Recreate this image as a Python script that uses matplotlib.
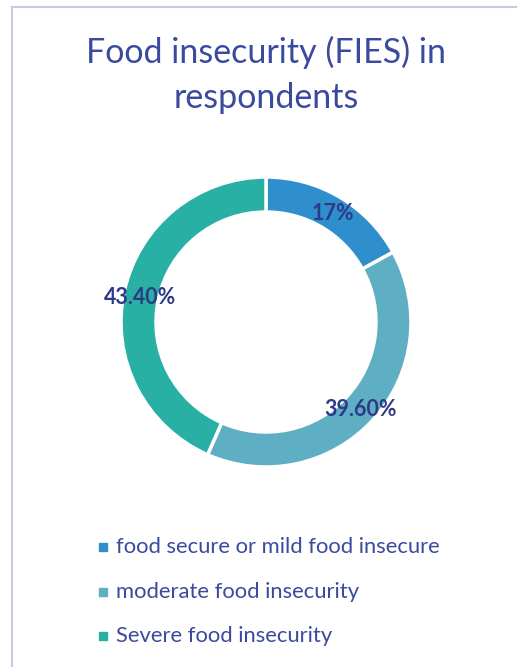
# Food insecurity (FIES) donut chart
import matplotlib.pyplot as plt
from matplotlib.patches import Rectangle

# Data
categories = ["food secure or mild food insecure",
              "moderate food insecurity",
              "Severe food insecurity"]
shares = [17.0, 39.6, 43.4]
value_labels = ["17%", "39.60%", "43.40%"]
colors = ["#2E8FCC", "#5EAFC4", "#27B0A3"]

plt.rcParams["font.family"] = ["Lato", "DejaVu Sans"]

fig = plt.figure(figsize=(5.17, 6.67), dpi=100)

# Light frame along the top and left
fig.add_artist(Rectangle((12 / 517, -0.1), 1.2, (1 - 7 / 667) + 0.1,
                         transform=fig.transFigure, fill=False,
                         edgecolor="#C9C9E6", linewidth=1.5))

fig.text(266 / 517, 1 - 52 / 667, "Food insecurity (FIES) in",
         ha="center", va="center", fontsize=24.5, color="#3A4A9F")
fig.text(266 / 517, 1 - 98 / 667, "respondents",
         ha="center", va="center", fontsize=24.5, color="#3A4A9F")

# Donut
ax = fig.add_axes([(266 - 150) / 517, 1 - (322 + 150) / 667, 300 / 517, 300 / 667])
wedges, _ = ax.pie(shares, colors=colors, startangle=90, counterclock=False,
                   radius=145 / 150,
                   wedgeprops=dict(width=35 / 150, edgecolor="white", linewidth=2.5))
ax.set_xlim(-1, 1)
ax.set_ylim(-1, 1)
ax.set_aspect("equal")

# Value labels
label_pos = [(333, 213), (361, 410), (140, 298)]
for (px, py), txt in zip(label_pos, value_labels):
    fig.text(px / 517, 1 - py / 667, txt, ha="center", va="center",
             fontsize=15.5, fontweight="bold", color="#2E3A87")

# Legend
legend_y = [547, 592, 636]
for y, name, c in zip(legend_y, categories, colors):
    fig.add_artist(Rectangle((99 / 517, 1 - (y + 4) / 667), 8 / 517, 8 / 667,
                             transform=fig.transFigure, color=c))
    fig.text(116 / 517, 1 - y / 667, name, ha="left", va="center",
             fontsize=15.8, color="#3A4A9F")

plt.savefig("out.png", dpi=100)
